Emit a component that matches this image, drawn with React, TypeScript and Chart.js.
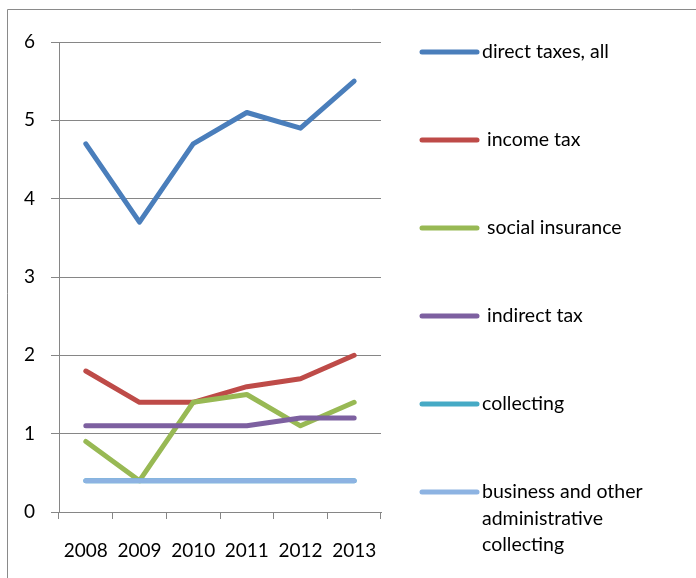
import React, { useEffect, useRef } from "react";
import { Chart, registerables } from "chart.js";

Chart.register(...registerables);

const years = ["2008", "2009", "2010", "2011", "2012", "2013"];
const seriesNames = [
  "direct taxes, all",
  " income tax",
  " social insurance",
  " indirect tax",
  "collecting",
  "business and other administrative collecting",
];
const directTaxes = [4.7, 3.7, 4.7, 5.1, 4.9, 5.5];
const incomeTax = [1.8, 1.4, 1.4, 1.6, 1.7, 2.0];
const socialInsurance = [0.9, 0.4, 1.4, 1.5, 1.1, 1.4];
const indirectTax = [1.1, 1.1, 1.1, 1.1, 1.2, 1.2];
const collecting = [0.4, 0.4, 0.4, 0.4, 0.4, 0.4];
const businessCollecting = [0.4, 0.4, 0.4, 0.4, 0.4, 0.4];
const colors = ["#4A7EBB", "#BE4B48", "#98B954", "#7D60A0", "#46AAC5", "#8DB3E2"];

const FONT = "Lato, 'Open Sans', sans-serif";

const framePlugin = {
  id: "frame",
  beforeDraw(chart: any) {
    const ctx = chart.ctx;
    ctx.save();
    ctx.strokeStyle = "#8a8a8a";
    ctx.lineWidth = 1;
    ctx.beginPath();
    ctx.moveTo(7.5, 578);
    ctx.lineTo(7.5, 9.5);
    ctx.lineTo(696, 9.5);
    ctx.stroke();
    ctx.restore();
  },
};

const legendPlugin = {
  id: "customLegend",
  afterDraw(chart: any) {
    const ctx = chart.ctx;
    ctx.save();
    ctx.font = `19.5px ${FONT}`;
    ctx.textBaseline = "middle";
    ctx.fillStyle = "#000";
    const x0 = 422;
    const x1 = 477;
    const tx = 482;
    const maxW = 200;
    chart.data.datasets.forEach((ds: any, i: number) => {
      const y = 52 + i * 88;
      ctx.strokeStyle = ds.borderColor;
      ctx.lineWidth = 5;
      ctx.lineCap = "round";
      ctx.beginPath();
      ctx.moveTo(x0, y);
      ctx.lineTo(x1, y);
      ctx.stroke();
      const label = String(ds.label);
      const lead = label.match(/^\s*/)?.[0] ?? "";
      const words = label.trim().split(" ");
      const lines: string[] = [];
      let cur = lead;
      words.forEach((w) => {
        const test = cur.trim() === "" ? cur + w : cur + " " + w;
        if (cur.trim() !== "" && ctx.measureText(test).width > maxW) {
          lines.push(cur);
          cur = w;
        } else {
          cur = test;
        }
      });
      lines.push(cur);
      lines.forEach((ln, j) => ctx.fillText(ln, tx, y + j * 26.5));
    });
    ctx.restore();
  },
};

export default function App() {
  const ref = useRef<HTMLCanvasElement>(null);
  useEffect(() => {
    if (!ref.current) return;
    const data = [directTaxes, incomeTax, socialInsurance, indirectTax, collecting, businessCollecting];
    const chart = new Chart(ref.current, {
      type: "line",
      data: {
        labels: years,
        datasets: data.map((d, i) => ({
          label: seriesNames[i],
          data: d,
          borderColor: colors[i],
          backgroundColor: colors[i],
          borderWidth: 5,
          pointRadius: 0,
          tension: 0,
          borderCapStyle: "round" as const,
          borderJoinStyle: "round" as const,
          order: 10 - i,
        })),
      },
      options: {
        responsive: false,
        animation: false,
        layout: { padding: { left: 0, top: 42, right: 315, bottom: 6 } },
        plugins: { legend: { display: false }, tooltip: { enabled: false } },
        scales: {
          x: {
            offset: true,
            grid: { offset: true, drawOnChartArea: false, drawTicks: true, tickLength: 7, color: "#868686" },
            border: { color: "#868686" },
            ticks: { color: "#000", font: { family: FONT, size: 19 }, padding: 20, maxRotation: 0 },
            afterFit: (s: any) => { s.height = 60; },
          },
          y: {
            min: 0,
            max: 6,
            ticks: { stepSize: 1, color: "#000", font: { family: FONT, size: 19 }, padding: 16 },
            grid: { color: "#868686", tickLength: 8 },
            border: { color: "#868686" },
            afterFit: (s: any) => { s.width = 59; },
          },
        },
      },
      plugins: [framePlugin, legendPlugin],
    });
    return () => chart.destroy();
  }, []);
  return (
    <div style={{ position: "fixed", left: 0, top: 0, width: 696, height: 578, background: "#fff" }}>
      <canvas ref={ref} width={696} height={578} style={{ width: 696, height: 578 }} />
    </div>
  );
}
